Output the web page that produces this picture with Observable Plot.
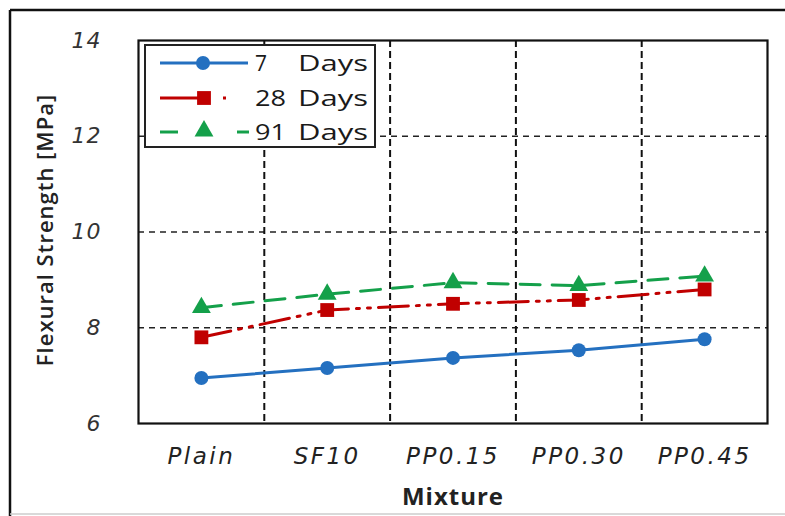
<!DOCTYPE html>
<html>
<head>
<meta charset="utf-8">
<script src="https://cdn.jsdelivr.net/npm/d3@7"></script>
<script src="https://cdn.jsdelivr.net/npm/@observablehq/plot@0.6"></script>
<style>
  body { margin: 0; background: #fff; }
  #wrap { position: relative; width: 785px; height: 516px; overflow: hidden; background: #fff; }
  #wrap > svg.overlay { position: absolute; left: 0; top: 0; pointer-events: none; }
  [aria-label="x-axis tick label"] text { letter-spacing: 2.5px; }
  [aria-label="y-axis tick label"] text { letter-spacing: 1px; }
</style>
</head>
<body>
<div id="wrap"></div>
<script>
// ---- data ----
const mixtures = ["Plain", "SF10", "PP0.15", "PP0.30", "PP0.45"];
const days7  = [6.95, 7.16, 7.37, 7.53, 7.76];
const days28 = [7.80, 8.37, 8.50, 8.58, 8.80];
const days91 = [8.42, 8.70, 8.94, 8.88, 9.08];
const yTicks = [6, 8, 10, 12, 14];
const yGrid = [8, 10, 12];
const seriesNumbers = ["7", "28", "91"];
const seriesWord = "Days";
const xTitle = "Mixture";
const yTitle = "Flexural Strength [MPa]";

const colors = ["#2470c0", "#c00000", "#14a04a"];
const rows = vals => mixtures.map((m, i) => ({i, mixture: m, v: vals[i]}));
const boundaries = d3.range(1, mixtures.length).map(i => i - 0.5);

const chart = Plot.plot({
  width: 785,
  height: 516,
  marginLeft: 138,
  marginRight: 18,
  marginTop: 40,
  marginBottom: 93,
  style: {fontFamily: "'Open Sans', sans-serif", background: "transparent"},
  x: {domain: [-0.5, mixtures.length - 0.5]},
  y: {domain: [6, 14]},
  marks: [
    Plot.ruleY(yGrid, {stroke: "#222", strokeWidth: 1.6, strokeDasharray: "6,5"}),
    Plot.ruleX(boundaries, {stroke: "#111", strokeWidth: 2, strokeDasharray: "7,4"}),
    Plot.frame({stroke: "#111", strokeWidth: 2.2}),
    Plot.line(rows(days7), {x: "i", y: "v", stroke: colors[0], strokeWidth: 3}),
    Plot.line(rows(days28), {x: "i", y: "v", stroke: colors[1], strokeWidth: 3, strokeDasharray: "30,8,3,8,3,8"}),
    Plot.line(rows(days91), {x: "i", y: "v", stroke: colors[2], strokeWidth: 3, strokeDasharray: "20,12"}),
    Plot.dot(rows(days7), {x: "i", y: "v", symbol: "circle", r: 7, fill: colors[0]}),
    Plot.dot(rows(days28), {x: "i", y: "v", symbol: "square", r: 7.8, fill: colors[1]}),
    Plot.dot(rows(days91), {x: "i", y: "v", symbol: "triangle", r: 7, fill: colors[2]}),
    Plot.axisX(d3.range(mixtures.length), {
      tickFormat: i => mixtures[i], tickSize: 0, tickPadding: 24, label: null,
      fontSize: 23, fontStyle: "italic", fontFamily: "'DejaVu Sans', sans-serif", color: "#222"
    }),
    Plot.axisY(yTicks, {
      tickSize: 0, tickPadding: 37, label: null,
      fontSize: 22, fontStyle: "italic", fontFamily: "'DejaVu Sans', sans-serif", color: "#333"
    }),
    Plot.text([xTitle], {
      frameAnchor: "bottom", dy: 74, text: d => d, fontSize: 24, fontWeight: "bold",
      fill: "#222", fontFamily: "'Open Sans', sans-serif", lineAnchor: "middle"
    }),
    Plot.text([yTitle], {
      frameAnchor: "left", dx: -93, dy: -2, rotate: -90, text: d => d, fontSize: 22, fontWeight: 600,
      fill: "#222", fontFamily: "'Open Sans', sans-serif", lineAnchor: "middle", textAnchor: "middle"
    })
  ]
});

d3.select(chart).selectAll("text").filter(function () { return this.textContent === yTitle; })
  .attr("letter-spacing", 1);
d3.select(chart).selectAll("text").filter(function () { return this.textContent === xTitle; })
  .attr("letter-spacing", 1);

const wrap = document.getElementById("wrap");
wrap.appendChild(chart);

// ---- overlay: page frame + legend ----
const ov = d3.select(wrap).append("svg").attr("class", "overlay")
  .attr("width", 785).attr("height", 516);

ov.append("line").attr("x1", 10).attr("x2", 785).attr("y1", 10).attr("y2", 10)
  .attr("stroke", "#111").attr("stroke-width", 2.5);
ov.append("line").attr("x1", 10).attr("x2", 10).attr("y1", 10).attr("y2", 516)
  .attr("stroke", "#111").attr("stroke-width", 2.5);
ov.append("line").attr("x1", 10).attr("x2", 785).attr("y1", 514).attr("y2", 514)
  .attr("stroke", "#ccc").attr("stroke-width", 1.5);

const lg = ov.append("g");
lg.append("rect").attr("x", 145).attr("y", 45).attr("width", 230).attr("height", 102)
  .attr("fill", "#fff").attr("stroke", "#222").attr("stroke-width", 2);

const rowY = [63, 98, 132];
// row 1: solid line + circle
lg.append("line").attr("x1", 160).attr("x2", 248).attr("y1", rowY[0]).attr("y2", rowY[0])
  .attr("stroke", colors[0]).attr("stroke-width", 3);
lg.append("path").attr("d", d3.symbol(d3.symbolCircle, Math.PI * 49)())
  .attr("transform", `translate(203,${rowY[0]})`).attr("fill", colors[0]);
// row 2: dash-dot + square
lg.append("line").attr("x1", 160).attr("x2", 200).attr("y1", rowY[1]).attr("y2", rowY[1])
  .attr("stroke", colors[1]).attr("stroke-width", 3);
lg.append("path").attr("d", d3.symbol(d3.symbolSquare, Math.PI * 7.8 * 7.8)())
  .attr("transform", `translate(204,${rowY[1]})`).attr("fill", colors[1]);
lg.append("rect").attr("x", 223).attr("y", rowY[1] - 1.5).attr("width", 3).attr("height", 3)
  .attr("fill", colors[1]);
// row 3: dashed + triangle
lg.append("line").attr("x1", 160).attr("x2", 178).attr("y1", rowY[2]).attr("y2", rowY[2])
  .attr("stroke", colors[2]).attr("stroke-width", 3);
lg.append("line").attr("x1", 237).attr("x2", 249).attr("y1", rowY[2]).attr("y2", rowY[2])
  .attr("stroke", colors[2]).attr("stroke-width", 3);
lg.append("path").attr("d", d3.symbol(d3.symbolTriangle, Math.PI * 7 * 7)())
  .attr("transform", `translate(204,${rowY[2] - 1})`).attr("fill", colors[2]);

seriesNumbers.forEach((n, k) => {
  lg.append("text").attr("x", 255).attr("y", rowY[k] + 8)
    .attr("font-family", "'Open Sans', sans-serif").attr("font-size", 22).attr("fill", "#1a1a1a")
    .attr("textLength", n.length === 1 ? 12 : 31).attr("lengthAdjust", "spacingAndGlyphs")
    .text(n);
  lg.append("text").attr("x", 298).attr("y", rowY[k] + 8)
    .attr("font-family", "'Open Sans', sans-serif").attr("font-size", 22).attr("fill", "#1a1a1a")
    .attr("textLength", 70).attr("lengthAdjust", "spacingAndGlyphs")
    .text(seriesWord);
});
</script>
</body>
</html>
